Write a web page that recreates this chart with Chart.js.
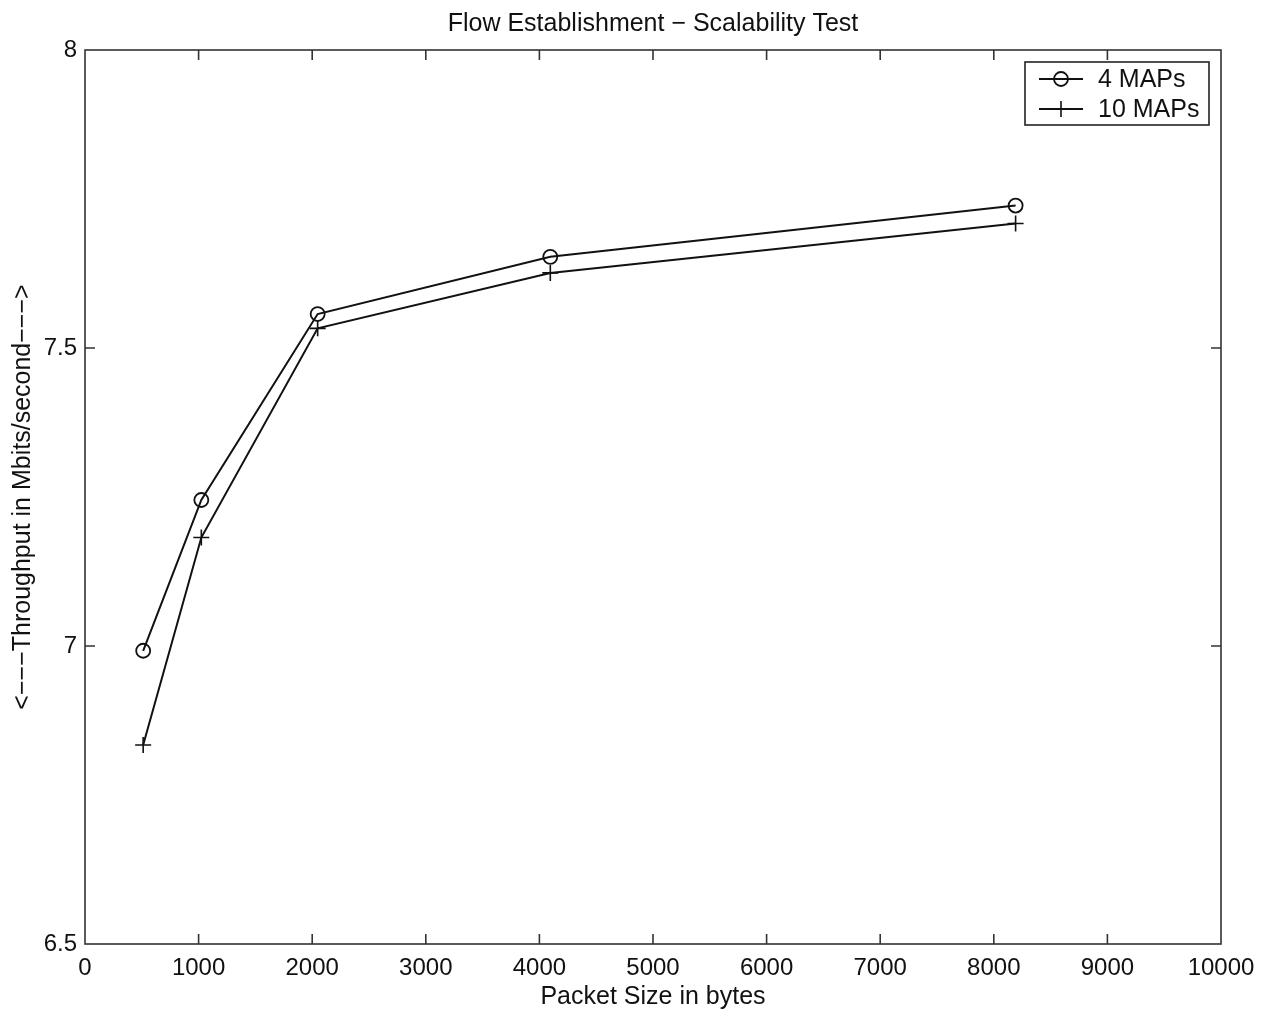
<!DOCTYPE html>
<html>
<head>
<meta charset="utf-8">
<script src="https://cdn.jsdelivr.net/npm/chart.js@4"></script>
<style>
  html, body { margin: 0; padding: 0; background: #fff; }
  #wrap { width: 1271px; height: 1017px; }
</style>
</head>
<body>
<div id="wrap"><canvas id="c" width="1271" height="1017"></canvas></div>
<script>
const packetSizes = [512, 1024, 2048, 4096, 8192];
const maps4 = [6.992, 7.245, 7.557, 7.653, 7.739];
const maps10 = [6.834, 7.182, 7.533, 7.626, 7.709];
const seriesLabels = ['4 MAPs', '10 MAPs'];
const titleText = 'Flow Establishment \u2212 Scalability Test';
const xTitle = 'Packet Size in bytes';
const yTitle = '<\u2212\u2212\u2212Throughput in Mbits/second\u2212\u2212\u2212>';

const FONT = "'Liberation Sans', Arial, Helvetica, sans-serif";
const INK = '#111';
const AXIS = '#333';

function pts(xs, ys) { return xs.map((x, i) => ({ x: x, y: ys[i] })); }

const axesTitle = {
  id: 'axesTitle',
  afterDraw(chart, args, opts) {
    const { ctx, chartArea: a } = chart;
    ctx.save();
    ctx.font = '25px ' + FONT;
    ctx.fillStyle = '#111';
    ctx.textAlign = 'center';
    ctx.textBaseline = 'middle';
    ctx.fillText(opts.text, (a.left + a.right) / 2, a.top - 26);
    ctx.restore();
  }
};

const boxTicks = {
  id: 'boxTicks',
  afterDatasetsDraw(chart) {
    const { ctx, chartArea: a, scales } = chart;
    const L = 10;
    ctx.save();
    ctx.strokeStyle = AXIS;
    ctx.lineWidth = 1.6;
    ctx.strokeRect(a.left, a.top, a.right - a.left, a.bottom - a.top);
    ctx.beginPath();
    scales.x.ticks.forEach(t => {
      const px = scales.x.getPixelForValue(t.value);
      if (px <= a.left + 1 || px >= a.right - 1) return;
      ctx.moveTo(px, a.bottom); ctx.lineTo(px, a.bottom - L);
      ctx.moveTo(px, a.top); ctx.lineTo(px, a.top + L);
    });
    scales.y.ticks.forEach(t => {
      const py = scales.y.getPixelForValue(t.value);
      if (py <= a.top + 1 || py >= a.bottom - 1) return;
      ctx.moveTo(a.left, py); ctx.lineTo(a.left + L, py);
      ctx.moveTo(a.right, py); ctx.lineTo(a.right - L, py);
    });
    ctx.stroke();
    ctx.restore();
  }
};

const lineLegend = {
  id: 'lineLegend',
  afterDraw(chart) {
    const { ctx, chartArea: a } = chart;
    const boxR = a.right - 12, boxT = a.top + 12;
    const boxW = 184, boxH = 63;
    const boxL = boxR - boxW;
    ctx.save();
    ctx.fillStyle = '#fff';
    ctx.fillRect(boxL, boxT, boxW, boxH);
    ctx.strokeStyle = '#222';
    ctx.lineWidth = 1.6;
    ctx.strokeRect(boxL, boxT, boxW, boxH);
    ctx.font = '25px ' + FONT;
    ctx.textBaseline = 'middle';
    ctx.textAlign = 'left';
    chart.data.datasets.forEach((ds, i) => {
      const cy = boxT + 17 + i * 30;
      const x0 = boxL + 14, x1 = boxL + 58, mx = (x0 + x1) / 2;
      ctx.strokeStyle = ds.borderColor;
      ctx.lineWidth = ds.borderWidth;
      ctx.beginPath(); ctx.moveTo(x0, cy); ctx.lineTo(x1, cy); ctx.stroke();
      ctx.lineWidth = ds.pointBorderWidth;
      ctx.beginPath();
      const r = ds.pointRadius;
      if (ds.pointStyle === 'circle') {
        ctx.arc(mx, cy, r, 0, Math.PI * 2);
      } else {
        ctx.moveTo(mx - r, cy); ctx.lineTo(mx + r, cy);
        ctx.moveTo(mx, cy - r); ctx.lineTo(mx, cy + r);
      }
      ctx.stroke();
      ctx.fillStyle = '#111';
      ctx.fillText(ds.label, boxL + 73, cy + 1);
    });
    ctx.restore();
  }
};

new Chart(document.getElementById('c'), {
  type: 'line',
  data: {
    datasets: [
      {
        label: seriesLabels[0],
        data: pts(packetSizes, maps4),
        borderColor: INK, borderWidth: 2,
        pointStyle: 'circle', pointRadius: 7,
        pointBorderColor: INK, pointBackgroundColor: 'rgba(0,0,0,0)', pointBorderWidth: 1.8,
        tension: 0, fill: false
      },
      {
        label: seriesLabels[1],
        data: pts(packetSizes, maps10),
        borderColor: INK, borderWidth: 2,
        pointStyle: 'cross', pointRadius: 8,
        pointBorderColor: INK, pointBackgroundColor: INK, pointBorderWidth: 1.6,
        tension: 0, fill: false
      }
    ]
  },
  options: {
    responsive: false,
    animation: false,
    devicePixelRatio: 1,
    layout: { padding: { left: 0, right: 50, top: 50, bottom: 0 } },
    plugins: {
      legend: { display: false },
      tooltip: { enabled: false },
      title: { display: false },
      axesTitle: { text: titleText }
    },
    scales: {
      x: {
        type: 'linear', min: 0, max: 10000,
        ticks: { stepSize: 1000, color: '#111', padding: 10, maxRotation: 0,
                 font: { family: FONT, size: 24 },
                 callback: v => String(v) },
        grid: { display: false, drawTicks: false },
        border: { display: false },
        title: { display: true, text: xTitle, color: '#111',
                 font: { family: FONT, size: 25, lineHeight: 1.2 }, padding: { top: 0, bottom: 5 } },
        afterFit(s) { s.height = 73; }
      },
      y: {
        type: 'linear', min: 6.5, max: 8,
        ticks: { stepSize: 0.5, color: '#111', padding: 8,
                 font: { family: FONT, size: 24 },
                 callback: v => String(v) },
        grid: { display: false, drawTicks: false },
        border: { display: false },
        title: { display: true, text: yTitle, color: '#111',
                 font: { family: FONT, size: 25, lineHeight: 1.2 }, padding: { top: 8, bottom: 0 } },
        afterFit(s) { s.width = 85; }
      }
    }
  },
  plugins: [boxTicks, lineLegend, axesTitle]
});
</script>
</body>
</html>
